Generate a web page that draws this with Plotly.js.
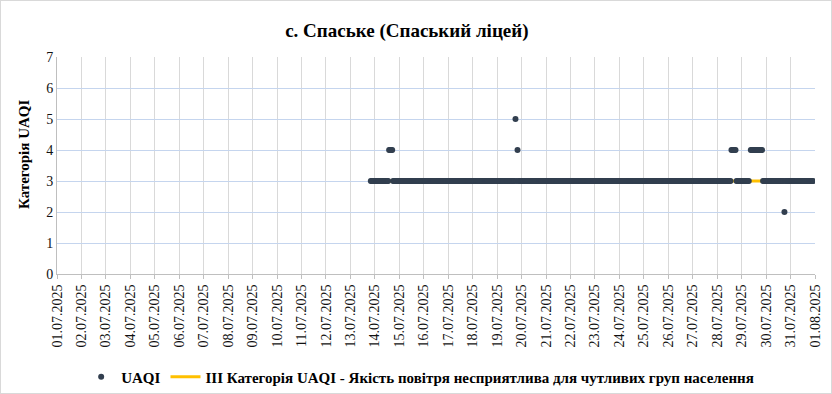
<!DOCTYPE html>
<html>
<head>
<meta charset="utf-8">
<script src="https://cdn.plot.ly/plotly-3.0.1.min.js"></script>
<style>
  html, body { margin: 0; padding: 0; background: #fff; }
  #wrap { position: relative; width: 832px; height: 394px; }
  #chart { width: 832px; height: 394px; }
  #frame { position: absolute; left: 0; top: 0; width: 830px; height: 392px; border: 1px solid #d9d9d9; pointer-events: none; }
</style>
</head>
<body>
<div id="wrap"><div id="chart"></div><div id="frame"></div></div>
<script>
// Hourly UAQI category readings, stored as runs of equal value (start hour, end hour, value)
const runStart = ['2025-07-13 20:00', '2025-07-14 14:00', '2025-07-14 18:00', '2025-07-19 18:00', '2025-07-19 19:00',
                  '2025-07-19 20:00', '2025-07-19 21:00', '2025-07-28 14:00', '2025-07-28 19:00', '2025-07-29 09:00',
                  '2025-07-29 21:00', '2025-07-30 18:00', '2025-07-30 19:00'];
const runEnd   = ['2025-07-14 13:00', '2025-07-14 17:00', '2025-07-19 17:00', '2025-07-19 18:00', '2025-07-19 19:00',
                  '2025-07-19 20:00', '2025-07-28 13:00', '2025-07-28 18:00', '2025-07-29 07:00', '2025-07-29 20:00',
                  '2025-07-30 17:00', '2025-07-30 18:00', '2025-07-31 22:00'];
const runValue = [3, 4, 3, 5, 3, 4, 3, 4, 3, 4, 3, 2, 3];

// Category III reference line
const catLevel = 3;
const catName = 'III Категорія UAQI - Якість повітря несприятлива для чутливих груп населення';

// Axis ticks
const tickDates = ['2025-07-01','2025-07-02','2025-07-03','2025-07-04','2025-07-05','2025-07-06','2025-07-07','2025-07-08',
                   '2025-07-09','2025-07-10','2025-07-11','2025-07-12','2025-07-13','2025-07-14','2025-07-15','2025-07-16',
                   '2025-07-17','2025-07-18','2025-07-19','2025-07-20','2025-07-21','2025-07-22','2025-07-23','2025-07-24',
                   '2025-07-25','2025-07-26','2025-07-27','2025-07-28','2025-07-29','2025-07-30','2025-07-31','2025-08-01'];
const tickText = ['01.07.2025','02.07.2025','03.07.2025','04.07.2025','05.07.2025','06.07.2025','07.07.2025','08.07.2025',
                  '09.07.2025','10.07.2025','11.07.2025','12.07.2025','13.07.2025','14.07.2025','15.07.2025','16.07.2025',
                  '17.07.2025','18.07.2025','19.07.2025','20.07.2025','21.07.2025','22.07.2025','23.07.2025','24.07.2025',
                  '25.07.2025','26.07.2025','27.07.2025','28.07.2025','29.07.2025','30.07.2025','31.07.2025','01.08.2025'];

function toMs(s) { return Date.parse(s.replace(' ', 'T') + ':00Z'); }
function fmt(ms) { return new Date(ms).toISOString().slice(0, 19).replace('T', ' '); }

const xs = [], ys = [];
for (let i = 0; i < runValue.length; i++) {
  for (let t = toMs(runStart[i]); t <= toMs(runEnd[i]); t += 3600000) {
    xs.push(fmt(t)); ys.push(runValue[i]);
  }
}

const serif = 'Liberation Serif';

const traces = [
  {
    x: [xs[0], xs[xs.length - 1]], y: [catLevel, catLevel],
    type: 'scatter', mode: 'lines', name: catName,
    line: { color: '#ffc000', width: 3 },
    legendrank: 2, hoverinfo: 'skip'
  },
  {
    x: xs, y: ys, type: 'scatter', mode: 'markers', name: 'UAQI',
    marker: { color: '#323f4f', size: 6, line: { width: 0 } },
    legendrank: 1
  }
];

const layout = {
  width: 832, height: 394,
  margin: { l: 57, r: 17, t: 57, b: 120 },
  paper_bgcolor: '#fff', plot_bgcolor: '#fff',
  title: {
    text: 'с. Спаське (Спаський ліцей)',
    font: { family: serif, size: 19, color: '#000', weight: 'bold' },
    x: 0.489, xref: 'container', xanchor: 'center',
    y: 1 - 30 / 394, yref: 'container', yanchor: 'middle'
  },
  xaxis: {
    type: 'date',
    range: ['2025-07-01 00:00', '2025-08-01 00:00'],
    tickmode: 'array', tickvals: tickDates, ticktext: tickText,
    tickangle: -90,
    tickfont: { family: serif, size: 14, color: '#111' },
    showgrid: true, gridcolor: '#d9d9d9', gridwidth: 1,
    showline: true, linecolor: '#bfbfbf', linewidth: 1,
    ticks: 'outside', ticklen: 4, tickcolor: '#bfbfbf',
    zeroline: false, automargin: false, fixedrange: true
  },
  yaxis: {
    range: [0, 7], dtick: 1, tick0: 0,
    tickfont: { family: serif, size: 14, color: '#111' },
    showgrid: true, gridcolor: '#c5d5ee', gridwidth: 1,
    showline: true, linecolor: '#bfbfbf', linewidth: 1,
    ticks: '', zeroline: false, automargin: false, fixedrange: true
  },
  annotations: [{
    text: 'Категорія UAQI', textangle: -90,
    xref: 'paper', yref: 'paper', x: (24 - 57) / 758, y: (274 - 155) / 217,
    xanchor: 'center', yanchor: 'middle', showarrow: false,
    font: { family: serif, size: 15, color: '#000', weight: 'bold' }
  }],
  showlegend: true,
  legend: {
    orientation: 'h', x: 0.505, xref: 'container', xanchor: 'center',
    y: 1 - 377 / 394, yref: 'container', yanchor: 'middle',
    font: { family: serif, size: 15, color: '#000', weight: 'bold' },
    bgcolor: 'rgba(0,0,0,0)', traceorder: 'normal'
  }
};

Plotly.newPlot('chart', traces, layout, { displayModeBar: false, staticPlot: true });
</script>
</body>
</html>
